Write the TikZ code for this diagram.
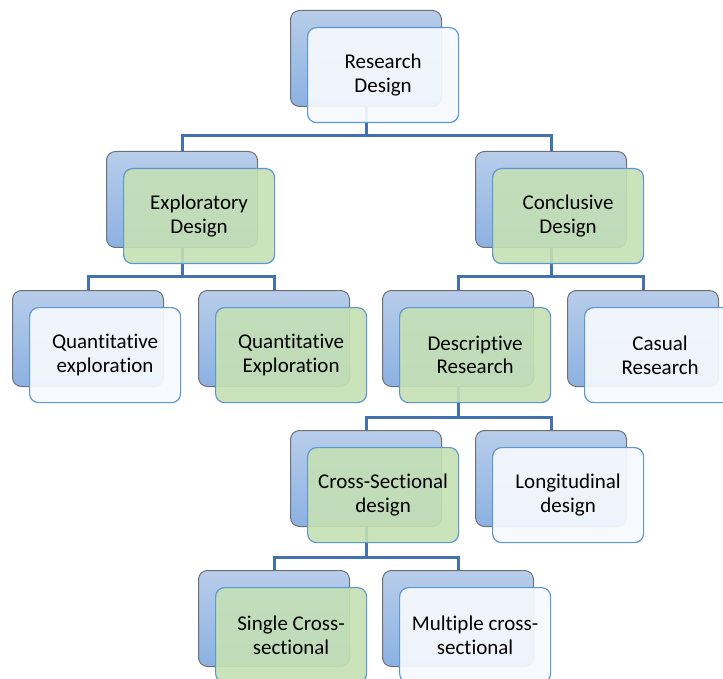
\documentclass[tikz,border=0pt]{standalone}
\usepackage{fontspec}
\setmainfont{Carlito}[Ligatures=NoCommon]
\definecolor{backtop}{RGB}{184,205,234}
\definecolor{backbot}{RGB}{140,177,226}
\definecolor{backline}{RGB}{112,112,112}
\definecolor{frontline}{RGB}{94,152,210}
\definecolor{paper}{RGB}{246,249,253}
\definecolor{leaf}{RGB}{197,224,180}
\definecolor{wire}{RGB}{66,114,178}
\begin{document}
\begin{tikzpicture}[x=1pt,y=-1pt,
  back/.style={rectangle, rounded corners=9pt, draw=backline, line width=1pt,
    top color=backtop, bottom color=backbot, minimum width=151pt,
    minimum height=96pt, anchor=north west, inner sep=0pt},
  front/.style={rectangle, rounded corners=9pt, draw=frontline, line width=1.2pt,
    minimum width=151pt, minimum height=95pt, anchor=north west, inner sep=0pt,
    align=center, font=\fontsize{21}{23.5}\selectfont, text=black, text opacity=1},
  paperbox/.style={front, fill=paper, fill opacity=0.93},
  leafbox/.style={front, fill=leaf, fill opacity=0.9},
  conn/.style={draw=wire, line width=3pt, line join=miter}]
\useasboundingbox (0,0) rectangle (723,679);
\fill[white] (0,0) rectangle (723,679);
\clip (0,0) rectangle (723,679);

% back cards
\node[back] (rd)  at (290,10)  {};
\node[back] (ed)  at (106,151) {};
\node[back] (cd)  at (475,151) {};
\node[back] (qe1) at (12,290)  {};
\node[back] (qe2) at (198,290) {};
\node[back] (dr)  at (382,290) {};
\node[back] (cr)  at (567,290) {};
\node[back] (cs)  at (290,430) {};
\node[back] (ld)  at (475,430) {};
\node[back] (sc)  at (198,570) {};
\node[back] (mc)  at (382,570) {};

% bus levels
\coordinate (b1) at (0,136);
\coordinate (b2) at (0,276);
\coordinate (b3) at (0,417);
\coordinate (b4) at (0,557);

% connectors
\draw[conn] (rd.south) -- (rd.south |- b1) -| (ed.north);
\draw[conn] (rd.south |- b1) -| (cd.north);
\draw[conn] (ed.south) -- (ed.south |- b2) -| (qe1.north);
\draw[conn] (ed.south |- b2) -| (qe2.north);
\draw[conn] (cd.south) -- (cd.south |- b2) -| (dr.north);
\draw[conn] (cd.south |- b2) -| (cr.north);
\draw[conn] (dr.south) -- (dr.south |- b3) -| (cs.north);
\draw[conn] (dr.south |- b3) -| (ld.north);
\draw[conn] (cs.south) -- (cs.south |- b4) -| (sc.north);
\draw[conn] (cs.south |- b4) -| (mc.north);

% front cards with labels
\node[paperbox] (rdf)  at (307,27)  {Research\\Design};
\node[leafbox]  (edf)  at (123,168) {Exploratory\\Design};
\node[leafbox]  (cdf)  at (492,168) {Conclusive\\Design};
\node[paperbox] (qe1f) at (29,307)  {Quantitative\\exploration};
\node[leafbox]  (qe2f) at (215,307) {Quantitative\\Exploration};
\node[leafbox]  (drf)  at (399,307) {Descriptive\\Research};
\node[paperbox] (crf)  at (584,307) {Casual\\Research};
\node[leafbox]  (csf)  at (307,447) {Cross-Sectional\\design};
\node[paperbox] (ldf)  at (492,447) {Longitudinal\\design};
\node[leafbox]  (scf)  at (215,587) {Single Cross-\\sectional};
\node[paperbox] (mcf)  at (399,587) {Multiple cross-\\sectional};
\end{tikzpicture}
\end{document}
